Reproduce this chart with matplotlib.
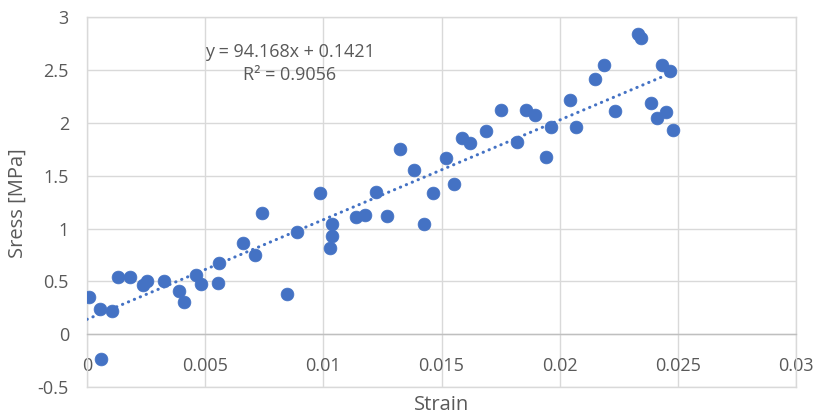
import matplotlib
matplotlib.use("Agg")
import matplotlib.pyplot as plt
import numpy as np

plt.rcParams['font.family'] = ['Open Sans', 'DejaVu Sans']

strain = [0.0001, 0.00055, 0.00104, 0.00058, 0.0013, 0.0018, 0.00236, 0.00254, 0.00324,
          0.0039, 0.00409, 0.00463, 0.00481, 0.00557, 0.00556, 0.0066, 0.0071, 0.00742,
          0.00846, 0.00887, 0.00985, 0.01035, 0.01035, 0.01028, 0.01138, 0.01176, 0.01223,
          0.01269, 0.01427, 0.01465, 0.01554, 0.01323, 0.01384, 0.01519, 0.01585, 0.01622,
          0.0169, 0.01753, 0.01821, 0.01859, 0.01896, 0.01962, 0.01942, 0.02045, 0.0207,
          0.02148, 0.02188, 0.02235, 0.02333, 0.02343, 0.02388, 0.0241, 0.02433, 0.02466,
          0.0245, 0.02478]
stress = [0.35, 0.236, 0.223, -0.23, 0.545, 0.54, 0.47, 0.507, 0.507,
          0.406, 0.308, 0.563, 0.472, 0.674, 0.488, 0.86, 0.746, 1.144,
          0.384, 0.964, 1.338, 1.045, 0.932, 0.816, 1.111, 1.125, 1.348,
          1.118, 1.04, 1.335, 1.424, 1.751, 1.553, 1.669, 1.858, 1.811,
          1.918, 2.12, 1.82, 2.117, 2.076, 1.958, 1.679, 2.215, 1.959,
          2.416, 2.548, 2.108, 2.841, 2.8, 2.183, 2.044, 2.548, 2.489,
          2.104, 1.934]

slope = 94.168
intercept = 0.1421
r2 = 0.9056

x_ticks = [0, 0.005, 0.01, 0.015, 0.02, 0.025, 0.03]
x_tick_labels = ["0", "0.005", "0.01", "0.015", "0.02", "0.025", "0.03"]
y_ticks = [-0.5, 0, 0.5, 1, 1.5, 2, 2.5, 3]
y_tick_labels = ["-0.5", "0", "0.5", "1", "1.5", "2", "2.5", "3"]

blue = '#4472C4'
grid_c = '#D9D9D9'
text_c = '#595959'

fig = plt.figure(figsize=(8.17, 4.18), dpi=100)
ax = fig.add_axes([87/817, 1-387.3/418, (796-87)/817, (387.3-16.9)/418])
ax.set_xlim(0, 0.03)
ax.set_ylim(-0.5, 3)

ax.set_xticks(x_ticks)
ax.set_xticklabels(x_tick_labels)
ax.set_yticks(y_ticks)
ax.set_yticklabels(y_tick_labels)
ax.grid(True, color=grid_c, linewidth=1.0)
ax.set_axisbelow(True)
ax.tick_params(axis='both', length=0, labelsize=13, labelcolor=text_c)
ax.tick_params(axis='x', pad=16)
ax.tick_params(axis='y', pad=13)

for s in ax.spines.values():
    s.set_color(grid_c)
    s.set_linewidth(1.0)
ax.spines['bottom'].set_position(('data', 0))
ax.spines['bottom'].set_color('#BFBFBF')
ax.axhline(-0.5, color=grid_c, linewidth=1.0, clip_on=False, zorder=0)

ax.scatter(strain, stress, s=85, color=blue, edgecolors=blue, linewidths=0.5, zorder=3)

xs = np.array([0, max(strain)])
ax.plot(xs, slope * xs + intercept, color=blue, linewidth=2.2,
        linestyle=(0, (0.1, 2.0)), dash_capstyle='round', zorder=4)

ax.text(0.00859, 2.56, f"y = {slope}x + {intercept}\nR² = {r2}", ha='center', va='center',
        fontsize=13, color=text_c, linespacing=1.35)

fig.text(441.5/817, 1-405/418, "Strain", ha='center', va='center', fontsize=14.5, color=text_c)
fig.text(18/817, 1-203.5/418, "Sress [MPa]", ha='center', va='center', rotation=90,
         fontsize=14.5, color=text_c)

fig.savefig("out.png", dpi=100)
